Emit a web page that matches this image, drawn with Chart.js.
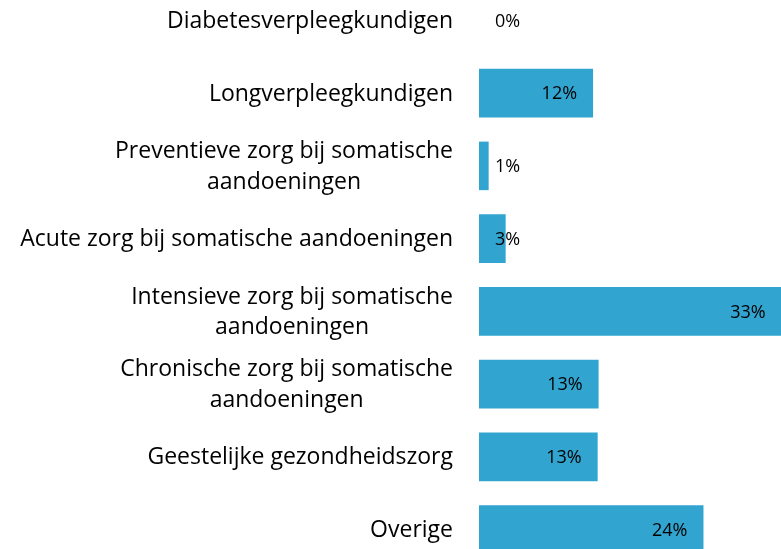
<!DOCTYPE html>
<html>
<head>
<meta charset="utf-8">
<script src="https://cdn.jsdelivr.net/npm/chart.js@4/dist/chart.umd.min.js"></script>
<style>
  html, body { margin: 0; padding: 0; background: #fff; overflow: hidden; width: 781px; height: 549px; }
  #wrap { position: absolute; left: 0; top: -16px; width: 801px; height: 582px; }
</style>
</head>
<body>
<div id="wrap"><canvas id="chart"></canvas></div>
<script>
// Categories (lines of each label) and share per category, in percent
const categories = [
  ['Diabetesverpleegkundigen'],
  ['Longverpleegkundigen'],
  ['Preventieve zorg bij somatische', 'aandoeningen'],
  ['Acute zorg bij somatische aandoeningen'],
  ['Intensieve zorg bij somatische', 'aandoeningen'],
  ['Chronische zorg bij somatische', 'aandoeningen'],
  ['Geestelijke gezondheidszorg'],
  ['Overige']
];
const shares = [0, 12.4, 1.05, 2.9, 32.9, 13.0, 12.9, 24.4];
const xRange = [0, 35];

const BAR_COLOR = '#31A5D0';
const CAT_FONT = '23px "Open Sans"';
const VAL_FONT = '18px "Open Sans"';

// Draws the category names (right-aligned block, extra lines centred under the first)
// and the value labels inside the bar end, or just past the base when the bar is too short.
const labelPlugin = {
  id: 'labels',
  afterDatasetsDraw(chart) {
    const ctx = chart.ctx;
    const yScale = chart.scales.y;
    const meta = chart.getDatasetMeta(0);
    const labelRight = chart.chartArea.left - 26;
    const lineH = 30.5;
    ctx.save();
    ctx.fillStyle = '#000';
    ctx.textBaseline = 'middle';
    ctx.font = CAT_FONT;
    categories.forEach((lines, i) => {
      const cy = yScale.getPixelForValue(i);
      const w0 = ctx.measureText(lines[0]).width;
      const cx = labelRight - w0 / 2;
      const y0 = cy - (lines.length - 1) * lineH / 2;
      lines.forEach((ln, k) => {
        ctx.textAlign = 'center';
        ctx.fillText(ln, cx, y0 + k * lineH + 1);
      });
    });
    ctx.font = VAL_FONT;
    meta.data.forEach((bar, i) => {
      const txt = Math.round(shares[i]) + '%';
      const w = ctx.measureText(txt).width;
      const pad = 16;
      const base = bar.base;
      let right = bar.x - pad;
      if (right - w < base + pad) right = base + pad + w;
      ctx.textAlign = 'right';
      ctx.fillText(txt, right, bar.y + 1);
    });
    ctx.restore();
  }
};

new Chart(document.getElementById('chart'), {
  type: 'bar',
  data: {
    labels: categories,
    datasets: [{
      data: shares,
      backgroundColor: BAR_COLOR,
      borderWidth: 0,
      categoryPercentage: 1,
      barPercentage: 0.667
    }]
  },
  options: {
    indexAxis: 'y',
    responsive: true,
    maintainAspectRatio: false,
    animation: false,
    layout: { padding: { left: 479, right: 0, top: 0, bottom: 0 } },
    plugins: { legend: { display: false }, tooltip: { enabled: false } },
    scales: {
      x: { display: false, min: xRange[0], max: xRange[1] },
      y: { display: false }
    }
  },
  plugins: [labelPlugin]
});
</script>
</body>
</html>
